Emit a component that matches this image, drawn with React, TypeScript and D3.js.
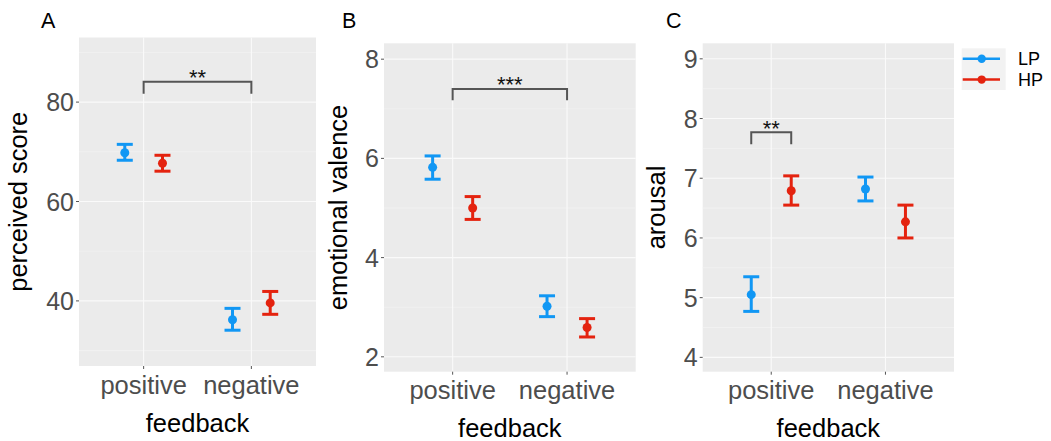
import React from "react";
import * as d3 from "d3";

const categories = ["positive", "negative"];
const groups = ["LP", "HP"];
const groupColors = ["#1197F4", "#E4230F"];

// Panel A: perceived score
const aLPMean = [69.8, 36.2];
const aLPLow = [68.3, 34.1];
const aLPHigh = [71.5, 38.5];
const aHPMean = [67.7, 39.6];
const aHPLow = [66.1, 37.3];
const aHPHigh = [69.3, 41.9];
const aTicks = [40, 60, 80];
const aMinor = [30, 50, 70, 90];

// Panel B: emotional valence
const bLPMean = [5.82, 3.02];
const bLPLow = [5.58, 2.81];
const bLPHigh = [6.05, 3.23];
const bHPMean = [5.0, 2.59];
const bHPLow = [4.77, 2.4];
const bHPHigh = [5.23, 2.77];
const bTicks = [2, 4, 6, 8];
const bMinor = [3, 5, 7];

// Panel C: arousal
const cLPMean = [5.05, 6.82];
const cLPLow = [4.77, 6.62];
const cLPHigh = [5.35, 7.02];
const cHPMean = [6.79, 6.27];
const cHPLow = [6.55, 6.0];
const cHPHigh = [7.04, 6.55];
const cTicks = [4, 5, 6, 7, 8, 9];
const cMinor = [4.5, 5.5, 6.5, 7.5, 8.5];

// significance brackets
const aBracket = { x1: 1, x2: 2, top: 84.1, bottom: 81.7, label: "**" };
const bBracket = { x1: 1, x2: 2, top: 7.4, bottom: 7.17, label: "***" };
const cBracket = { x1: 1 - 0.175, x2: 1 + 0.175, top: 7.77, bottom: 7.57, label: "**" };

const FONT = "'Liberation Sans', Arial, sans-serif";
const DODGE = 0.175;

type PanelCfg = {
  x0: number; x1: number; y0: number; y1: number;
  domain: [number, number];
  ticks: number[]; minor: number[];
  series: { mean: number[]; low: number[]; high: number[] }[];
  bracket: { x1: number; x2: number; top: number; bottom: number; label: string };
  title: string; ylab: string; ylabX: number; titleX: number;
};

const panels: PanelCfg[] = [
  {
    x0: 79, x1: 316, y0: 37.5, y1: 366, domain: [26.9, 93],
    ticks: aTicks, minor: aMinor,
    series: [
      { mean: aLPMean, low: aLPLow, high: aLPHigh },
      { mean: aHPMean, low: aHPLow, high: aHPHigh },
    ],
    bracket: aBracket, title: "A", ylab: "perceived score", ylabX: 27, titleX: 41,
  },
  {
    x0: 384, x1: 635.7, y0: 43.3, y1: 371.7, domain: [1.7, 8.32],
    ticks: bTicks, minor: bMinor,
    series: [
      { mean: bLPMean, low: bLPLow, high: bLPHigh },
      { mean: bHPMean, low: bHPLow, high: bHPHigh },
    ],
    bracket: bBracket, title: "B", ylab: "emotional valence", ylabX: 346.5, titleX: 342,
  },
  {
    x0: 702.7, x1: 954, y0: 43.3, y1: 371.7, domain: [3.76, 9.26],
    ticks: cTicks, minor: cMinor,
    series: [
      { mean: cLPMean, low: cLPLow, high: cLPHigh },
      { mean: cHPMean, low: cHPLow, high: cHPHigh },
    ],
    bracket: cBracket, title: "C", ylab: "arousal", ylabX: 665, titleX: 666,
  },
];

function Panel({ p }: { p: PanelCfg }) {
  const x = d3.scaleLinear().domain([0.4, 2.6]).range([p.x0, p.x1]);
  const y = d3.scaleLinear().domain(p.domain).range([p.y1, p.y0]);
  const cy = (p.y0 + p.y1) / 2;
  const cx = (p.x0 + p.x1) / 2;
  const b = p.bracket;
  const capW = 8;
  return (
    <g>
      <text x={p.titleX} y={27.5} fontSize={21.5} fontFamily={FONT} fill="#000">{p.title}</text>
      <rect x={p.x0} y={p.y0} width={p.x1 - p.x0} height={p.y1 - p.y0} fill="#EBEBEB" />
      {p.minor.map((v) => (
        <line key={"mi" + v} x1={p.x0} x2={p.x1} y1={y(v)} y2={y(v)} stroke="#F5F5F5" strokeWidth={0.6} />
      ))}
      {p.ticks.map((v) => (
        <line key={"ma" + v} x1={p.x0} x2={p.x1} y1={y(v)} y2={y(v)} stroke="#FAFAFA" strokeWidth={1.1} />
      ))}
      {categories.map((c, i) => (
        <line key={"vx" + c} x1={x(i + 1)} x2={x(i + 1)} y1={p.y0} y2={p.y1} stroke="#FAFAFA" strokeWidth={1.1} />
      ))}
      {p.ticks.map((v) => (
        <line key={"tk" + v} x1={p.x0 - 3} x2={p.x0} y1={y(v)} y2={y(v)} stroke="#555" strokeWidth={1} />
      ))}
      {categories.map((c, i) => (
        <line key={"tx" + c} x1={x(i + 1)} x2={x(i + 1)} y1={p.y1} y2={p.y1 + 3} stroke="#555" strokeWidth={1} />
      ))}
      {p.ticks.map((v) => (
        <text key={"tl" + v} x={p.x0 - 5} y={y(v)} dy="0.36em" textAnchor="end" fontSize={25} fontFamily={FONT} fill="#4D4D4D">{v}</text>
      ))}
      {categories.map((c, i) => (
        <text key={"xl" + c} x={x(i + 1)} y={p.y1 + 27.5} textAnchor="middle" fontSize={25.5} fontFamily={FONT} fill="#4D4D4D">{c}</text>
      ))}
      <text x={cx} y={p.y1 + 65.5} textAnchor="middle" fontSize={25.5} fontFamily={FONT} fill="#000">feedback</text>
      <text transform={`translate(${p.ylabX},${cy}) rotate(-90)`} textAnchor="middle" fontSize={25.5} fontFamily={FONT} fill="#000">{p.ylab}</text>
      <path
        d={`M${x(b.x1)},${y(b.bottom)} L${x(b.x1)},${y(b.top)} L${x(b.x2)},${y(b.top)} L${x(b.x2)},${y(b.bottom)}`}
        fill="none" stroke="#555" strokeWidth={2}
      />
      <text x={(x(b.x1) + x(b.x2)) / 2} y={y(b.top) + 3.5} textAnchor="middle" fontSize={22} fontFamily={FONT} fill="#111">{b.label}</text>
      {p.series.map((s, gi) => {
        const off = gi === 0 ? -DODGE : DODGE;
        const col = groupColors[gi];
        return (
          <g key={"s" + gi}>
            {categories.map((c, i) => {
              const px = x(i + 1 + off);
              return (
                <g key={c}>
                  <line x1={px} x2={px} y1={y(s.low[i])} y2={y(s.high[i])} stroke={col} strokeWidth={3} />
                  <line x1={px - capW} x2={px + capW} y1={y(s.low[i])} y2={y(s.low[i])} stroke={col} strokeWidth={3} />
                  <line x1={px - capW} x2={px + capW} y1={y(s.high[i])} y2={y(s.high[i])} stroke={col} strokeWidth={3} />
                  <circle cx={px} cy={y(s.mean[i])} r={4.5} fill={col} />
                </g>
              );
            })}
          </g>
        );
      })}
    </g>
  );
}

function Legend() {
  const ly = d3.scaleBand<string>().domain(groups).range([48.3, 90]);
  return (
    <g>
      <rect x={961.7} y={48.3} width={44} height={41.7} fill="#F2F2F2" />
      {groups.map((g, i) => {
        const yy = (ly(g) as number) + ly.bandwidth() / 2;
        return (
          <g key={g}>
            <line x1={962.7} x2={1000} y1={yy} y2={yy} stroke={groupColors[i]} strokeWidth={2.5} />
            <circle cx={981.7} cy={yy} r={4.2} fill={groupColors[i]} />
            <text x={1018} y={yy} dy="0.36em" fontSize={18} fontFamily={FONT} fill="#000">{g}</text>
          </g>
        );
      })}
    </g>
  );
}

export default function App() {
  return (
    <svg width={1051} height={441} style={{ position: "absolute", left: 0, top: 0, background: "#fff" }}>
      <rect width={1051} height={441} fill="#fff" />
      {panels.map((p) => (
        <Panel key={p.title} p={p} />
      ))}
      <Legend />
    </svg>
  );
}
